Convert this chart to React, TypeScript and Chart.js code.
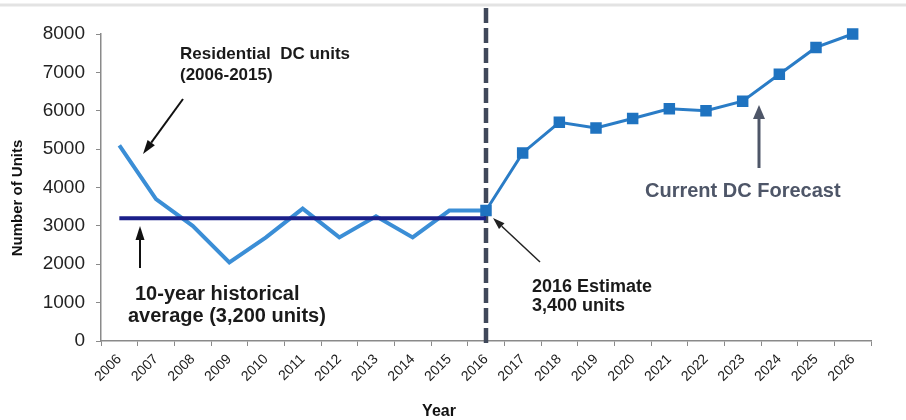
import React, { useEffect, useRef } from "react";
import { Chart, registerables } from "chart.js";

Chart.register(...registerables);

const years = ["2006","2007","2008","2009","2010","2011","2012","2013","2014","2015","2016","2017","2018","2019","2020","2021","2022","2023","2024","2025","2026"];
const historical = [5100, 3700, 3000, 2050, 2700, 3450, 2700, 3250, 2700, 3400, 3400, null, null, null, null, null, null, null, null, null, null];
const average = [3200, 3200, 3200, 3200, 3200, 3200, 3200, 3200, 3200, 3200, 3200, null, null, null, null, null, null, null, null, null, null];
const forecast = [null, null, null, null, null, null, null, null, null, null, 3400, 4900, 5700, 5550, 5800, 6050, 6000, 6250, 6950, 7650, 8000];
const yTicks = [0, 1000, 2000, 3000, 4000, 5000, 6000, 7000, 8000];
const estimateIndex = 10;

const FONT = "'Liberation Sans', Arial, sans-serif";

function arrow(ctx: CanvasRenderingContext2D, x1: number, y1: number, x2: number, y2: number, color: string, width: number, headLen: number, headW: number) {
  const ang = Math.atan2(y2 - y1, x2 - x1);
  const bx = x2 - Math.cos(ang) * headLen;
  const by = y2 - Math.sin(ang) * headLen;
  ctx.save();
  ctx.strokeStyle = color;
  ctx.fillStyle = color;
  ctx.lineWidth = width;
  ctx.beginPath();
  ctx.moveTo(x1, y1);
  ctx.lineTo(bx, by);
  ctx.stroke();
  ctx.beginPath();
  ctx.moveTo(x2, y2);
  ctx.lineTo(bx + Math.sin(ang) * headW / 2, by - Math.cos(ang) * headW / 2);
  ctx.lineTo(bx - Math.sin(ang) * headW / 2, by + Math.cos(ang) * headW / 2);
  ctx.closePath();
  ctx.fill();
  ctx.restore();
}

const decorPlugin = {
  id: "decor",
  beforeDatasetsDraw(chart: any) {
    const ctx = chart.ctx as CanvasRenderingContext2D;
    const xs = chart.scales.x;
    const ys = chart.scales.y;
    ctx.save();
    ctx.strokeStyle = "#e3e3e3";
    ctx.lineWidth = 3;
    ctx.beginPath();
    ctx.moveTo(0, 5);
    ctx.lineTo(chart.width, 5);
    ctx.stroke();
    const x = xs.getPixelForValue(estimateIndex);
    ctx.strokeStyle = "#40485a";
    ctx.lineWidth = 4.5;
    ctx.setLineDash([15, 5]);
    ctx.beginPath();
    ctx.moveTo(x, 8);
    ctx.lineTo(x, ys.bottom + 4);
    ctx.stroke();
    ctx.restore();
  },
  afterDraw(chart: any) {
    const ctx = chart.ctx as CanvasRenderingContext2D;
    ctx.save();
    ctx.textAlign = "left";
    ctx.textBaseline = "alphabetic";
    ctx.fillStyle = "#1a1a1a";
    ctx.font = `bold 17px ${FONT}`;
    ctx.fillText("Residential  DC units", 180, 59);
    ctx.fillText("(2006-2015)", 180, 80);
    ctx.font = `bold 20px ${FONT}`;
    ctx.fillText("10-year historical", 135, 300);
    ctx.fillText("average (3,200 units)", 128, 322);
    ctx.font = `bold 18px ${FONT}`;
    ctx.fillText("2016 Estimate", 532, 292);
    ctx.fillText("3,400 units", 532, 311);
    ctx.fillStyle = "#4e5668";
    ctx.font = `bold 20px ${FONT}`;
    ctx.fillText("Current DC Forecast", 645, 197);

    ctx.fillStyle = "#111";
    ctx.font = `bold 16px ${FONT}`;
    ctx.textAlign = "center";
    ctx.fillText("Year", 439, 416);
    ctx.save();
    ctx.translate(18, 198);
    ctx.rotate(-Math.PI / 2);
    ctx.font = `bold 15px ${FONT}`;
    ctx.textBaseline = "middle";
    ctx.fillText("Number of Units", 0, 0);
    ctx.restore();

    arrow(ctx, 183, 99, 143, 154, "#111", 2, 14, 9);
    arrow(ctx, 140, 268, 140, 226, "#111", 2, 14, 9);
    arrow(ctx, 540, 262, 493, 218, "#222", 1.5, 12, 8);
    arrow(ctx, 759, 168, 759, 105, "#4e5668", 3, 14, 12);
    ctx.restore();
  },
};

export default function App() {
  const ref = useRef<HTMLCanvasElement | null>(null);
  useEffect(() => {
    if (!ref.current) return;
    const chart = new Chart(ref.current, {
      type: "line",
      data: {
        labels: years,
        datasets: [
          {
            label: "10-year historical average",
            data: average,
            borderColor: "#1b1f8a",
            borderWidth: 4,
            pointRadius: 0,
            order: 0,
            clip: false,
          },
          {
            label: "Current DC Forecast",
            data: forecast,
            borderColor: "#2a7cc6",
            borderWidth: 3,
            pointStyle: "rect",
            pointRadius: 6,
            pointBackgroundColor: "#1f73c0",
            pointBorderColor: "#1f73c0",
            order: 1,
            clip: false,
          },
          {
            label: "Residential DC units",
            data: historical,
            borderColor: "#3b8ed6",
            borderWidth: 4,
            pointRadius: 0,
            order: 2,
            clip: false,
          },
        ],
      },
      options: {
        responsive: false,
        animation: false,
        layout: { padding: { left: 0, right: 35, top: 34, bottom: 0 } },
        plugins: { legend: { display: false }, tooltip: { enabled: false } },
        scales: {
          x: {
            type: "category",
            offset: true,
            grid: { offset: true, drawOnChartArea: false, drawTicks: true, tickLength: 5, color: "#8a8a8a" },
            border: { display: true, color: "#8a8a8a", width: 1.5 },
            ticks: {
              autoSkip: false,
              minRotation: 45,
              maxRotation: 45,
              padding: 5,
              color: "#1a1a1a",
              font: { family: FONT, size: 14 },
            },
            afterFit(scale: any) {
              scale.height = 79;
            },
          },
          y: {
            min: 0,
            max: 8000,
            afterBuildTicks(scale: any) {
              scale.ticks = yTicks.map((v) => ({ value: v }));
            },
            grid: { drawOnChartArea: false, drawTicks: true, tickLength: 5, color: "#8a8a8a" },
            border: { display: true, color: "#8a8a8a", width: 1.5 },
            ticks: {
              padding: 11,
              color: "#222",
              font: { family: FONT, size: 19 },
              callback: (v: any) => String(v),
            },
            afterFit(scale: any) {
              scale.width = 101;
            },
          },
        },
      },
      plugins: [decorPlugin],
    });
    return () => chart.destroy();
  }, []);
  return (
    <div style={{ position: "fixed", left: 0, top: 0, width: 906, height: 420, background: "#fff" }}>
      <canvas ref={ref} width={906} height={420} style={{ display: "block" }} />
    </div>
  );
}
